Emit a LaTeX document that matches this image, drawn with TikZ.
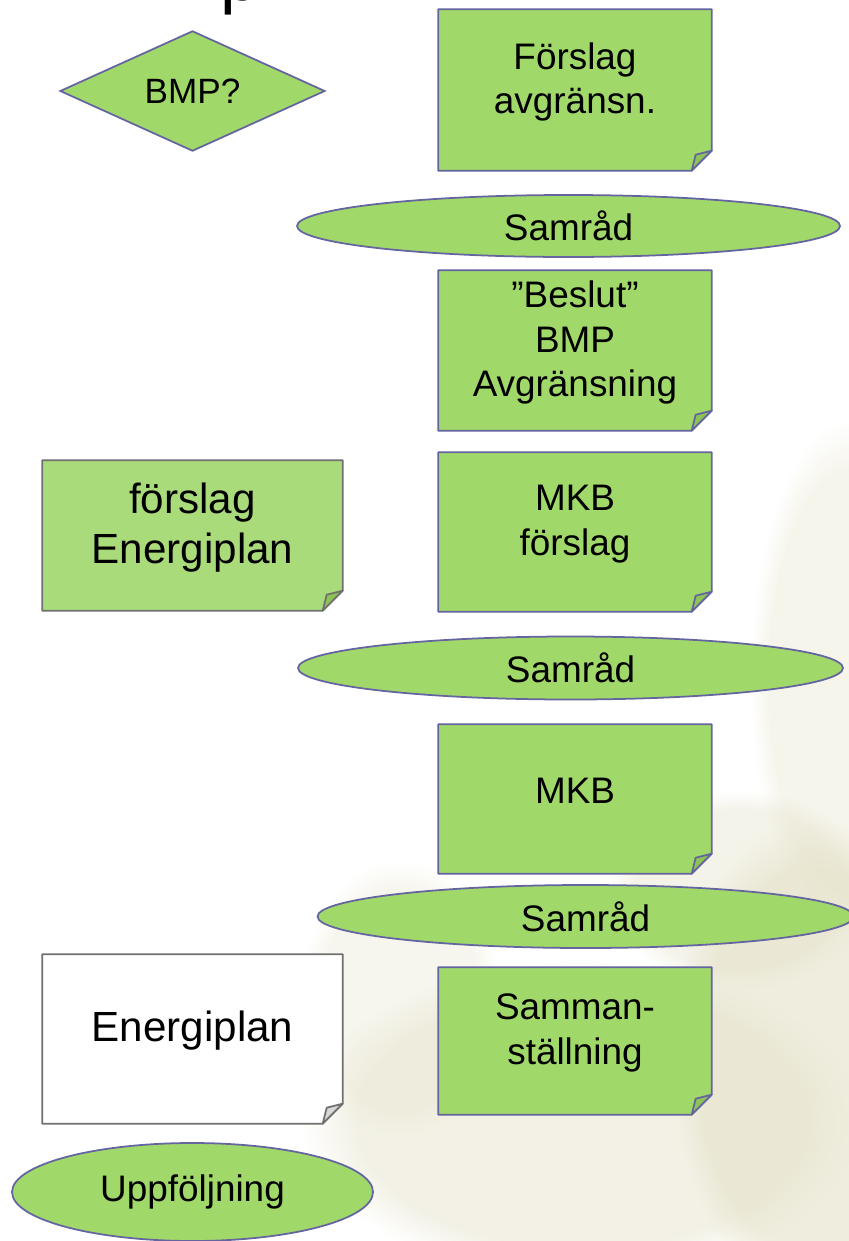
\documentclass[tikz,border=0pt]{standalone}
\usepackage{fontspec}
\setmainfont{Liberation Sans}
\usepackage{tikz}
\usetikzlibrary{shapes.geometric, fadings}
\definecolor{notegreen}{RGB}{161,216,106}
\definecolor{palegreen}{RGB}{170,219,123}
\definecolor{flapgreen}{RGB}{140,196,86}
\definecolor{noteline}{RGB}{100,100,160}
\definecolor{paperline}{RGB}{112,112,112}
\definecolor{flapgray}{RGB}{215,215,215}
\definecolor{photobeige}{RGB}{228,225,200}
\pgfdeclarelayer{photo}
\pgfdeclarelayer{background}
\pgfsetlayers{photo,background,main}
\tikzset{
    note/.style={minimum width=2.72cm, align=center, inner sep=0pt, font=\fontsize{10.5}{12.6}\selectfont},
    bignote/.style={minimum width=2.99cm, align=center, inner sep=0pt, font=\fontsize{12}{14.2}\selectfont},
    meeting/.style={ellipse, draw=noteline, fill=notegreen, line width=0.5pt, inner sep=0pt, font=\fontsize{10.5}{12.6}\selectfont},
    question/.style={diamond, draw=noteline, fill=notegreen, line width=0.5pt, inner sep=0pt, font=\fontsize{10}{12}\selectfont},
    blob/.style={fill=photobeige, path fading=circle with fuzzy edge 20 percent}
}
% paper with a folded corner, drawn behind a node
\newcommand{\dognote}[4]{%
    \filldraw[fill=#2, draw=#3, line width=0.5pt, line join=round]
        (#1.north west) -- (#1.north east) -- ([yshift=0.04cm]#1.south east)
        -- ([xshift=-0.2cm, yshift=-0.16cm]#1.south east) -- ([yshift=-0.16cm]#1.south west) -- cycle;
    \filldraw[fill=#4, draw=#3, line width=0.5pt, line join=round]
        ([yshift=0.04cm]#1.south east) -- ([xshift=-0.16cm]#1.south east)
        -- ([xshift=-0.2cm, yshift=-0.16cm]#1.south east) -- cycle;}

\begin{document}
\begin{tikzpicture}
    \useasboundingbox (0,0) rectangle (8.49,-12.41);
    % title, cut off at the top
    \node[anchor=base west, inner sep=0pt, font=\fontsize{20}{24}\selectfont] (title) at (2.20,0) {p};
    % left column
    \node[question, minimum width=2.65cm, minimum height=1.02cm] (bmp) at (1.925,-0.91) {BMP?};
    \node[bignote, minimum height=1.33cm] (forslag) at (1.925,-5.275) {förslag\\Energiplan};
    \node[bignote, minimum height=1.52cm] (plan) at (1.925,-10.31) {Energiplan};
    \node[meeting, minimum width=3.61cm, minimum height=0.98cm] (uppf) at (1.925,-11.92) {Uppföljning};
    % right column
    \node[note, minimum height=1.44cm] (avgr) at (5.75,-0.82) {Förslag\\avgränsn.};
    \node[meeting, minimum width=5.43cm, minimum height=0.62cm] (samrad1) at (5.685,-2.26) {Samråd};
    \node[note, minimum height=1.43cm] (beslut) at (5.75,-3.425) {”Beslut”\\BMP\\Avgränsning};
    \node[note, minimum height=1.42cm] (mkbf) at (5.75,-5.24) {MKB\\förslag};
    \node[meeting, minimum width=5.45cm, minimum height=0.63cm] (samrad2) at (5.705,-6.68) {Samråd};
    \node[note, minimum height=1.32cm] (mkb) at (5.75,-7.91) {MKB};
    \node[meeting, minimum width=5.36cm, minimum height=0.63cm] (samrad3) at (5.855,-9.165) {Samråd};
    \node[note, minimum height=1.30cm] (samman) at (5.75,-10.33) {Samman-\\ställning};

    \begin{pgfonlayer}{background}
        \foreach \n in {avgr, beslut, mkbf, mkb, samman}
            \dognote{\n}{notegreen}{noteline}{flapgreen};
        \dognote{forslag}{palegreen}{paperline}{flapgreen}
        \dognote{plan}{white}{paperline}{flapgray}
    \end{pgfonlayer}

    % faded photo behind
    \begin{pgfonlayer}{photo}
        \fill[blob, fill opacity=0.35] (8.5,-6.8) ellipse (1.0 and 2.6);
        \fill[blob, fill opacity=0.6] (8.1,-10.6) ellipse (1.4 and 2.4);
        \fill[blob, fill opacity=0.45] (5.8,-11.2) ellipse (2.8 and 1.6);
        \fill[blob, fill opacity=0.4] (7.4,-8.9) ellipse (1.3 and 1.0);
        \fill[blob, fill opacity=0.3] (4.0,-10.0) ellipse (1.0 and 1.4);
    \end{pgfonlayer}
\end{tikzpicture}
\end{document}
